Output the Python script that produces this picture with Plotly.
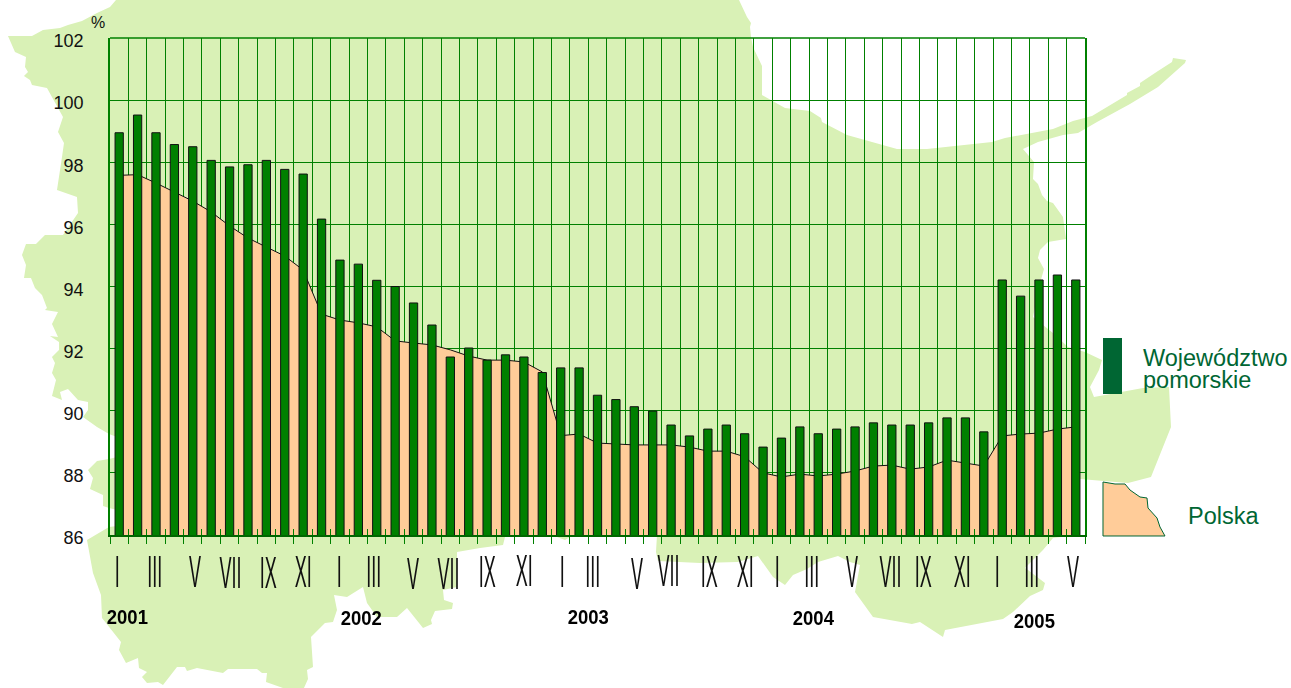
import plotly.graph_objects as go

# ---------- data ----------
MONTH_INDEX = list(range(53))
POMORSKIE = [98.95,99.52,98.95,98.57,98.50,98.06,97.85,97.92,98.06,97.77,97.62,96.17,
             94.85,94.72,94.20,94.00,93.47,92.76,91.73,92.02,91.63,91.80,91.73,91.23,
             91.38,91.38,90.50,90.36,90.13,89.99,89.54,89.19,89.41,89.54,89.26,88.83,
             89.12,89.48,89.26,89.41,89.48,89.61,89.54,89.54,89.61,89.77,89.77,89.32,
             94.21,93.69,94.21,94.37,94.21]
POLSKA = [97.58,97.60,97.33,97.04,96.75,96.40,95.95,95.56,95.27,94.98,94.53,93.11,
          92.92,92.83,92.70,92.25,92.18,92.12,91.96,91.76,91.63,91.63,91.57,91.25,
          89.20,89.25,88.96,88.93,88.90,88.90,88.90,88.83,88.70,88.70,88.52,88.00,
          87.87,87.96,87.90,87.96,88.06,88.22,88.25,88.12,88.19,88.41,88.32,88.22,
          89.19,89.25,89.28,89.41,89.48]
Y_TICKS = [86,88,90,92,94,96,98,100,102]
MONTH_LABELS = ["I","III","V","VII","IX","XI"]*4 + ["I","III","V"]
MONTH_LABEL_PX = [117,155,195,230,268,303,339,374,413,448,487,524,562,593,637,668,709,745,
                  777,812,852,890,923,962,997,1032,1073]
MONTH_LABEL_PY = [571,571,571,572,572,571,571,571,573,573,571,570,571,571,573,570,571,571,
                  571,571,571,571,571,571,571,571,571]
YEARS = ["2001","2002","2003","2004","2005"]
YEAR_PX = [127,361,588,813,1034]
YEAR_PY = [616,617,616,617,620]

# ---------- decorative outlines (page pixels) ----------
MAP_OUTLINE = [(116,0),(739,0),(747,17),(751,23),(750,27),(751,37),(753,47),(762,66),(762,95),(785,108),
 (810,111),(821,118),(822,122),(847,135),(897,149),(927,149),(992,142),(1005,138),(1053,129),(1073,121),
 (1092,116),(1127,95),(1127,93),(1140,86),(1140,83),(1158,71),(1172,62),(1173,58),(1186,60),(1185,63),
 (1158,87),(1130,104),(1097,122),(1078,133),(1063,135),(1038,142),(1023,149),(1034,162),(1033,179),
 (1038,184),(1042,195),(1047,201),(1053,203),(1063,217),(1066,239),(1048,242),(1040,250),(1038,258),
 (1044,269),(1039,287),(1033,317),(1043,325),(1053,333),(1068,347),(1085,352),(1102,360),(1099,370),
 (1090,387),(1094,397),(1143,388),(1169,387),(1171,427),(1151,477),(1128,483),(1080,479),(1078,535),
 (1053,538),(1043,550),(1025,568),(1028,570),(1045,583),(1043,590),(1030,596),(1013,612),(1003,619),
 (945,630),(943,637),(920,622),(912,624),(873,617),(855,592),(860,565),(850,562),(838,556),(818,562),
 (807,569),(793,575),(785,585),(773,577),(758,556),(738,562),(700,563),(658,561),(656,552),(657,535),
 (570,537),(565,540),(557,537),(520,535),(505,537),(503,545),(480,548),(457,552),(457,587),(443,590),
 (444,600),(453,603),(452,609),(435,611),(431,620),(432,624),(423,628),(407,608),(397,617),(377,617),
 (367,603),(363,587),(347,597),(334,595),(337,610),(333,622),(325,623),(311,637),(313,667),(307,670),
 (308,679),(304,688),(283,688),(266,682),(267,673),(262,673),(257,669),(228,669),(223,673),(197,668),
 (187,671),(185,667),(177,667),(163,685),(158,682),(147,683),(142,677),(147,672),(139,668),(138,658),
 (126,663),(119,650),(121,642),(102,618),(101,595),(93,573),(87,540),(109,527),(125,525),(125,512),
 (109,508),(103,506),(103,495),(90,489),(93,478),(88,470),(97,461),(109,459),(125,455),(125,440),
 (109,434),(97,427),(83,417),(88,410),(88,402),(78,400),(68,389),(60,392),(62,400),(52,396),(56,380),
 (52,373),(55,363),(52,357),(59,350),(59,342),(50,336),(58,337),(52,324),(58,312),(45,310),(47,308),
 (42,295),(35,288),(31,278),(24,278),(26,265),(22,255),(26,244),(36,244),(45,235),(63,235),(78,213),
 (77,197),(57,190),(62,157),(64,143),(58,132),(63,117),(47,88),(32,85),(30,80),(24,76),(28,72),(25,67),
 (26,57),(15,52),(8,36),(32,36),(43,30),(60,28),(68,25),(82,21),(97,13),(110,7)]
POLSKA_SWATCH = [(1103,482),(1115,484),(1125,484),(1130,490),(1140,497),(1147,498),(1148,508),(1157,518),
 (1160,527),(1165,536),(1103,536)]

L, R, T, B = 110, 1085, 38, 535
def px(x): return (x - L) / (R - L)
def py(y): return (B - y) / (B - T)
def path(pts):
    return "M " + " L ".join(f"{px(x):.5f},{py(y):.5f}" for x, y in pts) + " Z"

GREEN = "#008000"
DARK = "#006633"
FONT = "Liberation Sans"

fig = go.Figure()
fig.add_trace(go.Scatter(x=MONTH_INDEX, y=POLSKA, name="Polska", mode="lines", xaxis="x", yaxis="y",
                         line=dict(color="#111111", width=1), fill="tozeroy", fillcolor="#FFCC99"))
fig.add_trace(go.Bar(x=MONTH_INDEX, y=POMORSKIE, name="Województwo pomorskie", xaxis="x2", yaxis="y",
                     width=0.45, marker=dict(color=GREEN, line=dict(color="#111111", width=1))))

ann = []
def text(t, x, y, size, color="#111111", anchor="center", bold=False):
    ann.append(dict(text=f"<b>{t}</b>" if bold else t, xref="paper", yref="paper", x=px(x), y=py(y),
                    xanchor=anchor, yanchor="middle", showarrow=False,
                    font=dict(family=FONT, size=size, color=color)))
for lab, x, y in zip(MONTH_LABELS, MONTH_LABEL_PX, MONTH_LABEL_PY):
    text(lab, x, y, 45)
for lab, x, y in zip(YEARS, YEAR_PX, YEAR_PY):
    text(lab, x, y, 21, color="#000000", bold=True)
text("%", 98, 23, 16)
text("Województwo", 1141, 358, 23.5, color=DARK, anchor="left")
text("pomorskie", 1141, 380, 23.5, color=DARK, anchor="left")
text("Polska", 1186, 516, 23.5, color=DARK, anchor="left")

shapes = [
    dict(type="path", path=path(MAP_OUTLINE), xref="paper", yref="paper", layer="below",
         fillcolor="#D9F1B6", line=dict(width=0)),
    dict(type="line", xref="paper", yref="paper", x0=0, x1=1, y0=1, y1=1, line=dict(color=GREEN, width=1.5)),
    dict(type="rect", xref="paper", yref="paper", x0=px(1103), x1=px(1122), y0=py(394), y1=py(338),
         fillcolor=DARK, line=dict(width=0)),
    dict(type="path", path=path(POLSKA_SWATCH), xref="paper", yref="paper",
         fillcolor="#FFCC99", line=dict(color=DARK, width=1)),
]

xrange = [-0.5, 52.5]
fig.update_layout(
    width=1291, height=688, autosize=False, showlegend=False,
    margin=dict(l=L, r=1291 - R, t=T, b=688 - B),
    paper_bgcolor="rgba(0,0,0,0)", plot_bgcolor="rgba(0,0,0,0)",
    bargap=0.5, annotations=ann, shapes=shapes,
    xaxis=dict(range=xrange, tick0=-0.5, dtick=1, showgrid=True, gridcolor=GREEN, gridwidth=1,
               ticks="outside", ticklen=7, tickcolor=GREEN, showticklabels=False, zeroline=False,
               showline=True, linecolor="#006600", linewidth=2, mirror=False),
    xaxis2=dict(range=xrange, overlaying="x", side="bottom", anchor="y", tick0=-0.5, dtick=1, showgrid=False,
                ticks="inside", ticklen=6, tickcolor=GREEN, showticklabels=False, zeroline=False),
    yaxis=dict(range=[86, 102], tickvals=Y_TICKS, showgrid=True, gridcolor=GREEN, gridwidth=1,
               ticks="", zeroline=False, showline=True, linecolor=GREEN, linewidth=1.5, mirror=True,
               ticklabelstandoff=21, ticklabelshift=3, tickfont=dict(family=FONT, size=18, color="#111111")),
)

POST = """
document.body.style.margin = '0';
document.querySelectorAll('.annotation-text').forEach(function (el) {
  var t = el.textContent.trim(), sx = null;
  if (/^[IVX]+$/.test(t)) sx = 0.40;
  else if (/^20\\d\\d$/.test(t)) sx = 0.88;
  if (sx === null) return;
  var b = el.getBBox(), cx = b.x + b.width / 2;
  el.setAttribute('transform', 'translate(' + cx + ',0) scale(' + sx + ',1) translate(' + (-cx) + ',0)');
  el.style.filter = 'grayscale(1)';
});
"""
fig.write_html("out.html", post_script=POST, config={"displayModeBar": False})
